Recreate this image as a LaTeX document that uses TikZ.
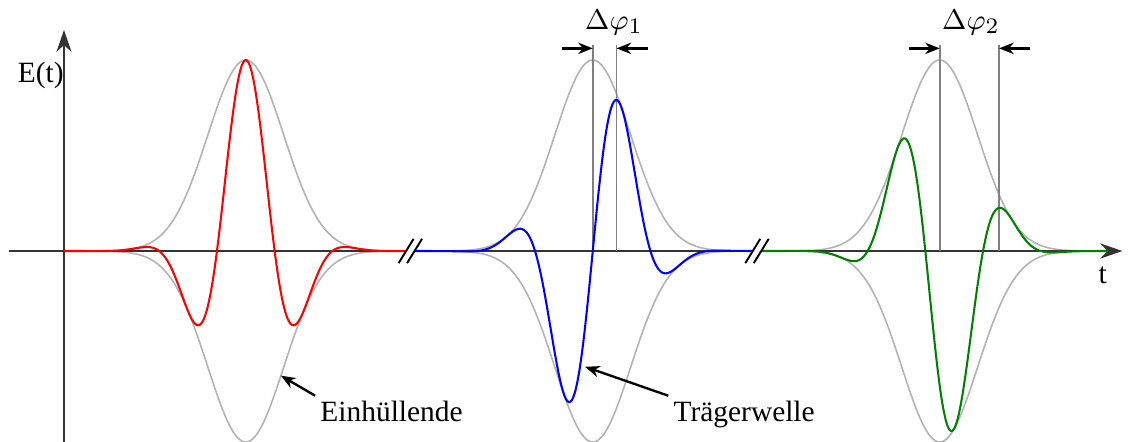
\documentclass[tikz,border=0pt]{standalone}
\usepackage{fontspec}
\setmainfont{Liberation Serif}
\usetikzlibrary{arrows.meta,calc}

\begin{document}
\begin{tikzpicture}[
		axisline/.style={draw=black!80, line width=0.6pt},
		envelope/.style={draw=black!30, line width=0.5pt},
		pulse/.style={line width=0.65pt},
		guide/.style={draw=black!50, line width=0.5pt},
		pointer/.style={-{Stealth[length=4.6pt,width=3.6pt]}, line width=0.75pt},
		annot/.style={inner sep=1.5pt, font=\fontsize{9.3pt}{11pt}\selectfont}
	]
				\useasboundingbox (-0.711,-2.111) rectangle (11.822,2.789);
				% envelopes
				\foreach \c/\a/\b in {2.02/0/3.80, 5.875/3.90/7.65, 9.73/7.75/11.6}{
					\draw [envelope] plot[domain=\a:\b, samples=160, smooth] (\x,{2.122*exp(-(\x-\c)*(\x-\c)/0.3565)});
					\draw [envelope] plot[domain=\a:\b, samples=160, smooth] (\x,{-2.122*exp(-(\x-\c)*(\x-\c)/0.3565)});
				}
				% axes
				\coordinate (xstart) at (-0.608,0);
				\coordinate (xend) at (11.76,0);
				\coordinate (ystart) at (0,-2.2);
				\coordinate (yend) at (0,2.456);
				\draw [axisline, -{Stealth[length=7pt,width=4.8pt]}] (xstart) -- (xend);
				\draw [axisline, -{Stealth[length=7pt,width=4.8pt]}] (ystart) -- (yend);
				% phase guides
				\coordinate (c2) at (5.875,0);
				\coordinate (m2) at (6.14,0);
				\coordinate (c3) at (9.73,0);
				\coordinate (m3) at (10.39,0);
				\foreach \p in {c2,m2,c3,m3}{
					\draw [guide] (\p) -- ($(\p)+(0,2.289)$);
				}
				% carriers
				\draw [pulse, red] plot[domain=0:3.80, samples=220, smooth] (\x,{2.122*exp(-(\x-2.02)*(\x-2.02)/0.3565)*cos(4.9*(\x-2.02) r)});
				\draw [pulse, blue] plot[domain=3.89:7.66, samples=220, smooth] (\x,{2.122*exp(-(\x-5.875)*(\x-5.875)/0.3565)*sin(4.9*(\x-5.875) r)});
				\draw [pulse, green!50!black] plot[domain=7.74:11.6, samples=220, smooth] (\x,{2.122*exp(-(\x-9.73)*(\x-9.73)/0.3565)*cos((4.9*(\x-9.73)-3.93) r)});
				% breaks
				\foreach \b in {3.848,7.70}{
					\fill [white] (\b-0.13,-0.135) -- (\b+0.036,0.135) -- (\b+0.13,0.135) -- (\b-0.036,-0.135) -- cycle;
					\draw [axisline, draw=black] (\b-0.13,-0.135) -- (\b+0.036,0.135) (\b-0.036,-0.135) -- (\b+0.13,0.135);
				}
				% phase arrows
				\draw [pointer] (5.533,2.252) -- (5.875,2.252);
				\draw [pointer] (6.485,2.252) -- (6.14,2.252);
				\draw [pointer] (9.392,2.252) -- (9.73,2.252);
				\draw [pointer] (10.733,2.252) -- (10.39,2.252);
				% labels
				\node [annot, anchor=base] (dphi1) at (6.111,2.463) {$\Delta\varphi_1$};
				\node [annot, anchor=base] (dphi2) at (10.078,2.463) {$\Delta\varphi_2$};
				\node [annot, anchor=base west] (ylabel) at (-0.572,1.874) {E(t)};
				\node [annot, anchor=base] (xlabel) at (11.54,-0.359) {t};
				\node [annot, anchor=base west] (envtext) at (2.79,-1.894) {Einhüllende};
				\node [annot, anchor=base west] (cartext) at (6.714,-1.894) {Trägerwelle};
				\coordinate (envtip) at (2.41,-1.385);
				\coordinate (cartip) at (5.79,-1.286);
				\draw [pointer] (envtext.north west) -- (envtip);
				\draw [pointer] (cartext.north west) -- (cartip);
			\end{tikzpicture}
\end{document}
